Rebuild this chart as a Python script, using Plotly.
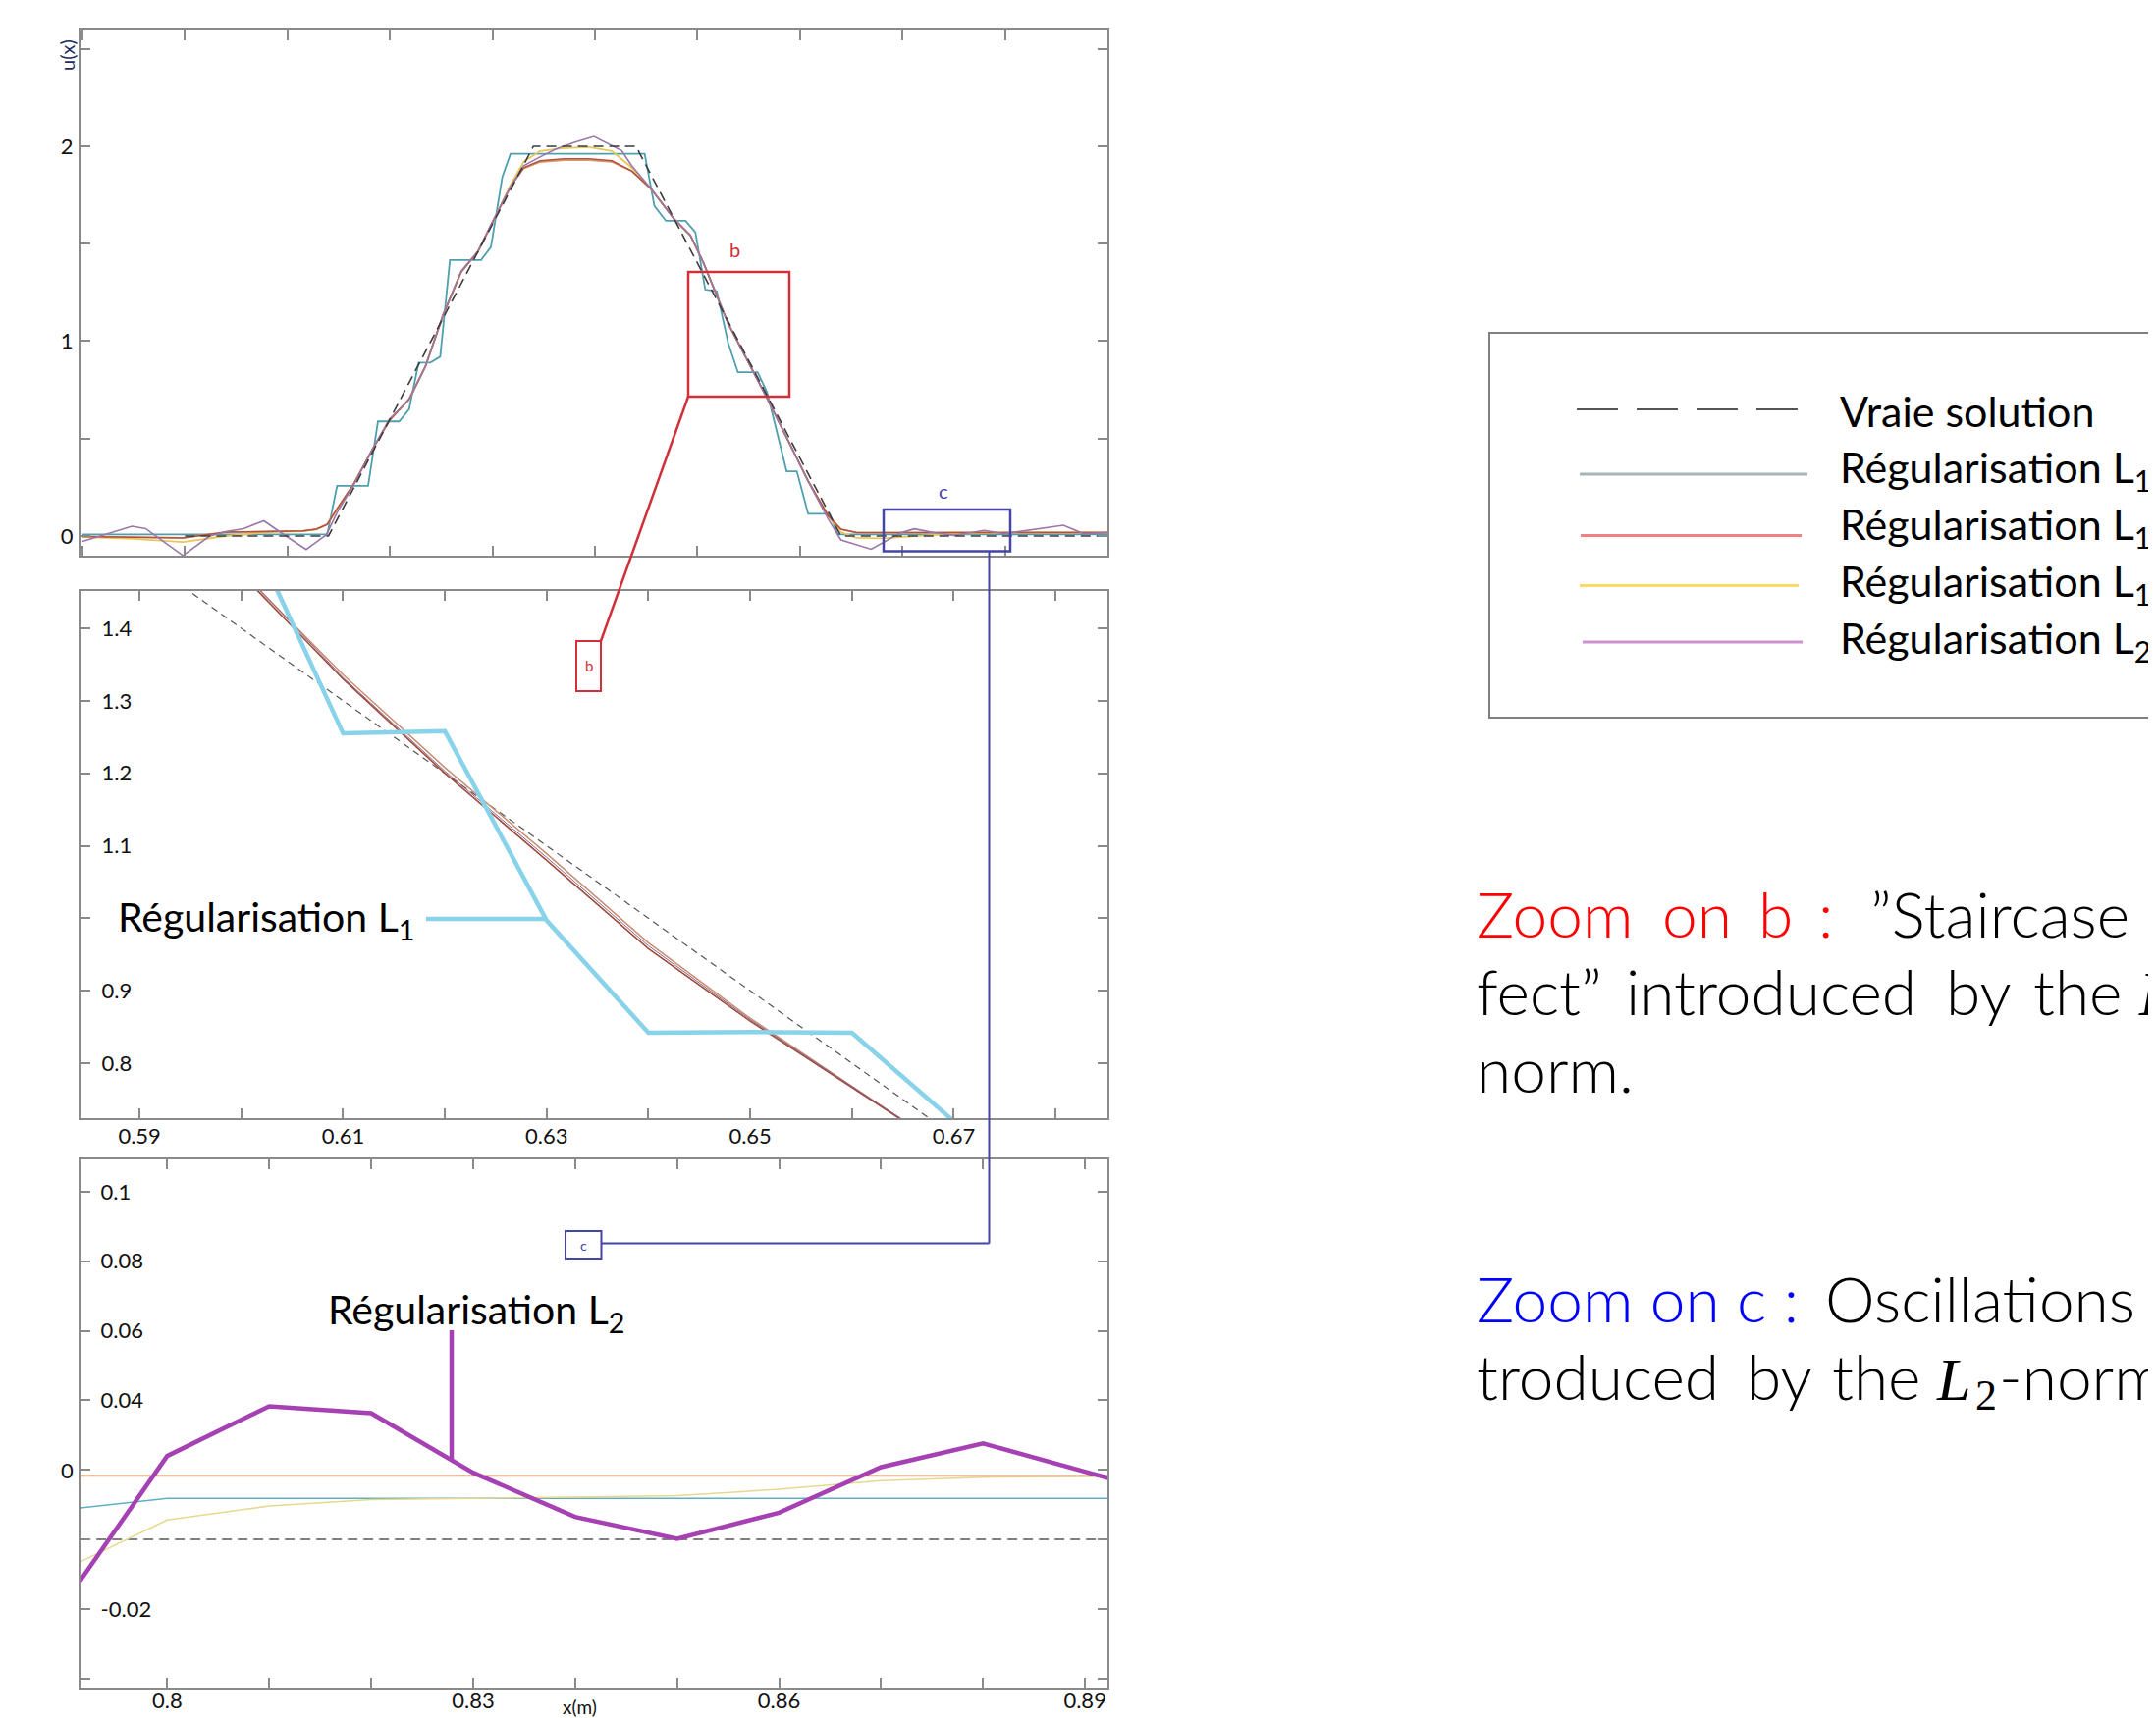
import plotly.graph_objects as go

W, H = 2196, 1750
OFF = 8  # page body margin compensation

# ---------------- data ----------------
# true solution (trapezoid)
TRUE_X = [0.10, 0.24, 0.44, 0.54, 0.74, 1.00]
TRUE_Y = [0.0, 0.0, 2.0, 2.0, 0.0, 0.0]

# top panel : L1 regularisation (staircase)
TOP_L1_X = [0.0, 0.2388, 0.2484, 0.2787, 0.2883, 0.309, 0.3187, 0.328, 0.3394, 0.349, 0.3585,
            0.3889, 0.3985, 0.4097, 0.4176, 0.5485, 0.558, 0.5693, 0.5884, 0.598, 0.6076, 0.6188,
            0.630, 0.6395, 0.6587, 0.668, 0.687, 0.697, 0.708, 0.729, 0.737, 1.0]
TOP_L1_Y = [0.008, 0.008, 0.257, 0.257, 0.588, 0.588, 0.651, 0.890, 0.890, 0.920, 1.416,
            1.416, 1.483, 1.844, 1.961, 1.961, 1.693, 1.617, 1.617, 1.558, 1.264, 1.256,
            0.99, 0.84, 0.84, 0.736, 0.332, 0.332, 0.114, 0.114, 0.008, 0.008]

# top panel : smooth regularisations
TOP_SMOOTH_X = [0.0, 0.05, 0.098, 0.14, 0.18, 0.215, 0.2282, 0.2388, 0.2484, 0.2644, 0.2835,
                0.2995, 0.3187, 0.3346, 0.3522, 0.3697, 0.3857, 0.4017, 0.4176, 0.4304, 0.4464,
                0.47, 0.494, 0.5166, 0.5358, 0.5549, 0.5773, 0.5932, 0.606, 0.63, 0.6667, 0.689,
                0.708, 0.7273, 0.740, 0.755, 0.78, 0.85, 0.92, 1.0]
TOP_ORANGE_Y = [-0.002, -0.005, -0.01, 0.02, 0.024, 0.026, 0.035, 0.06, 0.139, 0.265, 0.45,
                0.593, 0.702, 0.870, 1.139, 1.357, 1.458, 1.626, 1.793, 1.886, 1.919,
                1.928, 1.928, 1.92, 1.873, 1.78, 1.626, 1.542, 1.40, 1.09, 0.72, 0.484,
                0.282, 0.106, 0.035, 0.018, 0.017, 0.018, 0.018, 0.018]
TOP_RED_Y = [-0.002, -0.005, -0.01, 0.02, 0.024, 0.026, 0.035, 0.06, 0.139, 0.265, 0.45,
             0.593, 0.702, 0.870, 1.139, 1.357, 1.458, 1.626, 1.793, 1.89, 1.925,
             1.935, 1.935, 1.925, 1.873, 1.78, 1.626, 1.542, 1.40, 1.09, 0.72, 0.484,
             0.282, 0.106, 0.035, 0.018, 0.017, 0.018, 0.018, 0.018]
TOP_YELLOW_Y = [-0.005, -0.015, -0.031, 0.0, 0.02, 0.024, 0.035, 0.06, 0.139, 0.265, 0.45,
                0.593, 0.702, 0.870, 1.139, 1.357, 1.458, 1.626, 1.80, 1.92, 1.975,
                1.99, 1.995, 1.975, 1.89, 1.78, 1.626, 1.542, 1.40, 1.09, 0.72, 0.484,
                0.282, 0.106, 0.02, -0.01, -0.012, 0.012, 0.018, 0.018]

# top panel : L2 regularisation (oscillating)
TOP_L2_X = [0.0, 0.0484, 0.0616, 0.098, 0.1242, 0.1408, 0.1573, 0.177, 0.1985, 0.2183, 0.2282,
            0.238, 0.2484, 0.2644, 0.2835, 0.2995, 0.3187, 0.3346, 0.3522, 0.3697, 0.3857,
            0.4017, 0.4176, 0.4304, 0.4464, 0.462, 0.48, 0.499, 0.526, 0.5358, 0.5549, 0.5773,
            0.5932, 0.606, 0.63, 0.6667, 0.689, 0.708, 0.7273, 0.740, 0.7695, 0.7987, 0.8116,
            0.831, 0.8505, 0.8796, 0.899, 0.9347, 0.957, 0.9767, 1.0]
TOP_L2_Y = [-0.028, 0.05, 0.038, -0.10, 0.0, 0.024, 0.038, 0.078, 0.0, -0.069, -0.031,
            0.007, 0.12, 0.26, 0.45, 0.60, 0.70, 0.87, 1.14, 1.36, 1.46,
            1.63, 1.79, 1.90, 1.945, 1.986, 2.02, 2.05, 1.978, 1.90, 1.78, 1.626,
            1.542, 1.40, 1.09, 0.72, 0.484, 0.28, 0.09, -0.02, -0.068, 0.017, 0.037,
            0.017, 0.003, 0.029, 0.012, 0.037, 0.055, 0.012, 0.017]

# middle panel : zoom on b
MID_X = [0.59, 0.60, 0.61, 0.62, 0.63, 0.64, 0.65, 0.66, 0.67, 0.68, 0.69]
MID_L1_Y = [1.61, 1.56, 1.255, 1.258, 0.997, 0.842, 0.843, 0.842, 0.72, 0.45, 0.33]
MID_RED_Y = [1.60, 1.475, 1.33, 1.20, 1.08, 0.958, 0.858, 0.767, 0.675, 0.58, 0.48]
MID_ORANGE_Y = [1.60, 1.478, 1.336, 1.208, 1.089, 0.966, 0.862, 0.769, 0.676, 0.58, 0.48]
MID_L2_Y = [1.62, 1.48, 1.332, 1.203, 1.084, 0.962, 0.860, 0.768, 0.676, 0.58, 0.48]

# bottom panel : zoom on c
BOT_X = [0.79, 0.80, 0.81, 0.82, 0.83, 0.84, 0.85, 0.86, 0.87, 0.88, 0.89, 0.90]
BOT_L2_Y = [-0.018, 0.024, 0.0383, 0.0363, 0.0192, 0.0065, 0.0002, 0.0077, 0.0208, 0.0276, 0.0195, 0.0114]
BOT_L1_Y = [0.0086, 0.0118, 0.0118, 0.0118, 0.0118, 0.0118, 0.0118, 0.0118, 0.0118, 0.0118, 0.0118, 0.0118]
BOT_YELLOW_Y = [-0.0085, 0.0056, 0.0096, 0.0115, 0.0118, 0.0121, 0.0126, 0.0144, 0.0169, 0.0179, 0.0182, 0.0183]
BOT_ORANGE_Y = [0.0183] * 12

# ticks
TOP_X_TICKS = [round(0.1 * i, 1) for i in range(11)]
TOP_Y_TICKS = [0, 0.5, 1, 1.5, 2, 2.5]
TOP_Y_TEXT = ["0", " ", "1", " ", "2", " "]
MID_X_TICKS = [round(0.59 + 0.01 * i, 2) for i in range(10)]
MID_X_TEXT = ["0.59", " ", "0.61", " ", "0.63", " ", "0.65", " ", "0.67", " "]
MID_Y_TICKS = [0.8, 0.9, 1.0, 1.1, 1.2, 1.3, 1.4]
MID_Y_TEXT = ["0.8", "0.9", " ", "1.1", "1.2", "1.3", "1.4"]
BOT_X_TICKS = [round(0.80 + 0.01 * i, 2) for i in range(10)]
BOT_X_TEXT = ["0.8", " ", " ", "0.83", " ", " ", "0.86", " ", " ", "0.89"]
BOT_Y_TICKS = [-0.04, -0.02, 0.0, 0.02, 0.04, 0.06, 0.08, 0.1]
BOT_Y_TEXT = [" ", "-0.02", " ", " ", "0.04", "0.06", "0.08", "0.1"]

LEGEND_LABELS = ["Vraie solution", "Régularisation L<sub>1</sub>", "Régularisation L<sub>1,2</sub>",
                 "Régularisation L<sub>1,5</sub>", "Régularisation L<sub>2</sub>"]

# ---------------- figure ----------------
fig = go.Figure()


def add(x, y, color, width, ax, dash=None):
    fig.add_trace(go.Scatter(x=x, y=y, mode="lines", xaxis=ax[0], yaxis=ax[1],
                             line=dict(color=color, width=width, dash=dash),
                             hoverinfo="skip", showlegend=False))


A1, A2, A3 = ("x", "y"), ("x2", "y2"), ("x3", "y3")

# top
add(TOP_L1_X, TOP_L1_Y, "#4f9fae", 1.8, A1)
add(TOP_SMOOTH_X, TOP_YELLOW_Y, "#e8c75a", 1.8, A1)
add(TOP_SMOOTH_X, TOP_ORANGE_Y, "#d49a6a", 1.8, A1)
add(TOP_SMOOTH_X, TOP_RED_Y, "#b4503f", 1.5, A1)
add(TOP_L2_X, TOP_L2_Y, "#9b77a9", 1.6, A1)
add(TRUE_X, TRUE_Y, "#3c3c3c", 1.6, A1, "10px,6px")

# middle
add(TRUE_X, TRUE_Y, "#555555", 1.2, A2, "7px,5px")
add(MID_X, MID_ORANGE_Y, "#c89276", 1.6, A2)
add(MID_X, MID_RED_Y, "#9e4a3c", 1.6, A2)
add(MID_X, MID_L2_Y, "#8d6188", 1.0, A2)
add(MID_X, MID_L1_Y, "#88d3ea", 4.5, A2)

# bottom
add(TRUE_X, TRUE_Y, "#555555", 1.5, A3, "10px,6px")
add(BOT_X, BOT_L1_Y, "#5fb0bf", 1.5, A3)
add(BOT_X, BOT_YELLOW_Y, "#e6d88e", 1.5, A3)
add(BOT_X, BOT_ORANGE_Y, "#dcae8c", 2.0, A3)
add(BOT_X, BOT_L2_Y, "#a541b3", 4.5, A3)

axis_common = dict(showline=True, linecolor="#8a8a8a", linewidth=2, mirror="ticks",
                   ticks="inside", ticklen=10, tickwidth=1.5, tickcolor="#8a8a8a",
                   showgrid=False, zeroline=False,
                   tickfont=dict(family="Lato", size=22, color="#111111"))


def px(X):
    return (X - OFF) / W


def py(Y):
    return 1 - (Y - OFF) / H


XD = [px(82), px(1128)]

fig.update_layout(
    width=W, height=H, margin=dict(l=0, r=0, t=0, b=0),
    paper_bgcolor="white", plot_bgcolor="white", showlegend=False,
    xaxis=dict(domain=XD, range=[-0.0019, 1.0], anchor="y", tickvals=TOP_X_TICKS,
               showticklabels=False, **axis_common),
    yaxis=dict(domain=[py(566), py(31)], range=[-0.1008, 2.594], anchor="x",
               tickvals=TOP_Y_TICKS, ticktext=TOP_Y_TEXT, ticklabelstandoff=1, **axis_common),
    xaxis2=dict(domain=XD, range=[0.5842, 0.6851], anchor="y2", tickvals=MID_X_TICKS,
                ticktext=MID_X_TEXT, ticklabelstandoff=-2, **axis_common),
    yaxis2=dict(domain=[py(1139), py(602)], range=[0.7242, 1.4515], anchor="x2",
                tickvals=MID_Y_TICKS, ticktext=MID_Y_TEXT, ticklabelposition="inside",
                ticklabelstandoff=13, **axis_common),
    xaxis3=dict(domain=XD, range=[0.7915, 0.8922], anchor="y3", tickvals=BOT_X_TICKS,
                ticktext=BOT_X_TEXT, ticklabelstandoff=-7, **axis_common),
    yaxis3=dict(domain=[py(1719), py(1181)], range=[-0.0426, 0.1093], anchor="x3",
                tickvals=BOT_Y_TICKS, ticktext=BOT_Y_TEXT, ticklabelposition="inside",
                ticklabelstandoff=12, **axis_common),
)

shapes = []


def seg(x0, y0, x1, y1, color, width, dash=None):
    shapes.append(dict(type="line", xref="paper", yref="paper", x0=px(x0), y0=py(y0),
                       x1=px(x1), y1=py(y1), line=dict(color=color, width=width, dash=dash)))


def rect(x0, y0, x1, y1, color, width):
    shapes.append(dict(type="rect", xref="paper", yref="paper", x0=px(x0), y0=py(y0),
                       x1=px(x1), y1=py(y1), line=dict(color=color, width=width)))


RED = "#d0303a"
BLUE = "#4545a5"
# zoom b
rect(701, 277, 804, 404, RED, 2.5)
rect(587, 653, 612, 704, RED, 2)
seg(701, 404, 612, 653, RED, 2.5)
# zoom c
rect(900, 519, 1029, 561.5, BLUE, 2.5)
rect(576, 1254, 612.5, 1282, BLUE, 2)
seg(1007.5, 561.5, 1007.5, 1266.5, BLUE, 2)
seg(1007.5, 1266.5, 612.5, 1266.5, BLUE, 2)
# pointers
seg(434, 936, 556, 936, "#88d3ea", 4.5)
seg(460, 1355, 460, 1486, "#a541b3", 4.5)
# legend
rect(1517, 339, 2230, 731, "#808080", 2)
seg(1606, 417, 1833, 417, "#555555", 2, "42px,19px")
seg(1609, 483, 1841, 483, "#a7b4b8", 3)
seg(1610, 545.5, 1835, 545.5, "#f28080", 3)
seg(1609, 596.5, 1832, 596.5, "#ffd966", 3)
seg(1612, 654, 1836, 654, "#cc8fd0", 3)

anns = []


def text(X, Y, s, size, color="#000000", family="Lato", xanchor="left", yanchor="middle",
         angle=0, weight=None):
    f = dict(family=family, size=size, color=color)
    if weight:
        f["weight"] = weight
    anns.append(dict(x=px(X), y=py(Y), xref="paper", yref="paper", text=s, showarrow=False,
                     xanchor=xanchor, yanchor=yanchor, font=f, textangle=angle))


text(68, 56, "u(x)", 20, "#1f2d5c", xanchor="center", angle=-90)
text(590, 1738, "x(m)", 19, "#111111", xanchor="center")
text(748, 254, "b", 20, RED, xanchor="center")
text(961, 500, "c", 20, BLUE, xanchor="center")
text(599.5, 678, "b", 15, RED, xanchor="center")
text(594.5, 1268, "c", 14, BLUE, xanchor="center")
text(118, 937, "Régularisation L<sub>1</sub>", 41)
text(332, 1336, "Régularisation L<sub>2</sub>", 41)

# legend labels
for lab, yc in zip(LEGEND_LABELS, [418, 478, 536, 594, 652]):
    text(1872, yc, lab, 43)

# bottom panel "0" label (outside)
anns.append(dict(x=px(68), y=0.02, xref="paper", yref="y3", text="0", showarrow=False,
                 xanchor="center", yanchor="middle",
                 font=dict(family="Lato", size=22, color="#111111")))

# right-side commentary (Lato Light)
S = 64
LT = "Lato Light, Lato"


def line_c(base):
    return base - 0.387 * S


b1, b2, b3, b4, b5 = 955, 1034, 1113, 1347, 1426
for word, X, col in [("Zoom", 1502, "#ff0000"), ("on", 1691, "#ff0000"), ("b", 1789, "#ff0000"),
                     (":", 1850, "#ff0000"), ("”Staircase", 1903, "#000000")]:
    text(X, line_c(b1), word, S, col, family=LT, weight=300)
for word, X in [("fect”", 1502), ("introduced", 1654), ("by", 1980), ("the", 2069)]:
    text(X, line_c(b2), word, S, "#000000", family=LT, weight=300)
text(2176, b2 - 0.3375 * 64, "<i>L</i>", 64, "#000000", family="Liberation Serif")
text(1502, line_c(b3), "norm.", S, "#000000", family=LT, weight=300)
text(1502, line_c(b4), "Zoom on c :", S, "#0000ff", family=LT, weight=300)
text(1857, line_c(b4), "Oscillations in-", S, "#000000", family=LT, weight=300)
for word, X in [("troduced", 1502), ("by", 1777), ("the", 1864)]:
    text(X, line_c(b5), word, S, "#000000", family=LT, weight=300)
text(1970, b5 - 0.3375 * 62, "<i>L</i>", 62, "#000000", family="Liberation Serif")
text(2010, b5 + 10 - 0.3375 * 44, "2", 44, "#000000", family="Liberation Serif")
text(2034, line_c(b5), "-norm.", S, "#000000", family=LT, weight=300)

fig.update_layout(shapes=shapes, annotations=anns)
fig.write_html("out.html")
